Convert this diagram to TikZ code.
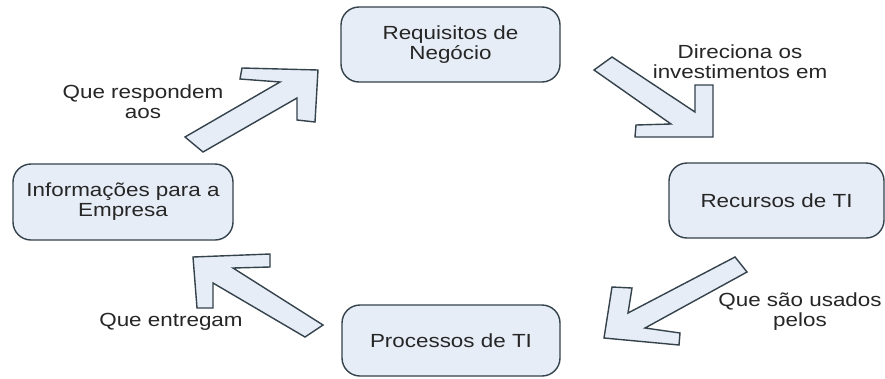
\documentclass[tikz,border=0pt]{standalone}
\usepackage{fontspec}
\setmainfont{Liberation Sans}[FakeStretch=1.18]
\begin{document}
\begin{tikzpicture}[x=1pt,y=-1pt,
  box/.style={draw=boxline, fill=boxfill, line width=1.4pt, rounded corners=18pt,
    inner sep=0pt, align=center, text=txt, font=\fontsize{19}{20}\selectfont},
  lbl/.style={inner sep=0pt, align=center, text=txt, font=\fontsize{19}{20}\selectfont},
  blockarrow/.style={draw=boxline, fill=boxfill, line width=1.4pt, line join=miter}]
\definecolor{boxline}{RGB}{52,66,76}
\definecolor{boxfill}{RGB}{231,237,246}
\definecolor{txt}{RGB}{38,38,38}
\useasboundingbox (0,0) rectangle (885,378);
\fill[white] (0,0) rectangle (885,378);

% boxes
\node[box, minimum width=219pt, minimum height=75pt] (req) at (450.5,44.5) {Requisitos de\\Negócio};
\node[box, minimum width=215pt, minimum height=75pt] (rec) at (776.5,200.5) {Recursos de TI};
\node[box, minimum width=218pt, minimum height=71pt] (proc) at (451,340.5) {Processos de TI};
\node[box, minimum width=220pt, minimum height=76pt] (info) at (123,202) {Informações para a\\Empresa};

% block arrows
% Informações -> Requisitos (NE)
\draw[blockarrow] (185,137) -- (280,82) -- (240,79) -- (242,68) -- (318,70) -- (315,122)
  -- (297,120) -- (297,98) -- (203,152) -- cycle;
% Requisitos -> Recursos (SE)
\draw[blockarrow] (612,57) -- (695,112) -- (695,85) -- (713,85) -- (713,137) -- (635,137)
  -- (636,125) -- (671,124) -- (594,70) -- cycle;
% Recursos -> Processos (SW)
\draw[blockarrow] (735,257) -- (628,313) -- (632,288) -- (612,287) -- (604,338) -- (679,345)
  -- (680,333) -- (645,328) -- (747,272) -- cycle;
% Processos -> Informações (NW)
\draw[blockarrow] (323,325) -- (233,268) -- (270,267) -- (270,254) -- (193,257) -- (197,308)
  -- (213,308) -- (213,283) -- (305,337) -- cycle;

% labels
\node[lbl] (l1) at (143,102) {Que respondem\\aos};
\node[lbl] (l2) at (740,62) {Direciona os\\investimentos em};
\node[lbl] (l3) at (800,312) {Que são usados\\pelos};
\node[lbl] (l4) at (171,322) {Que entregam};
\end{tikzpicture}
\end{document}
